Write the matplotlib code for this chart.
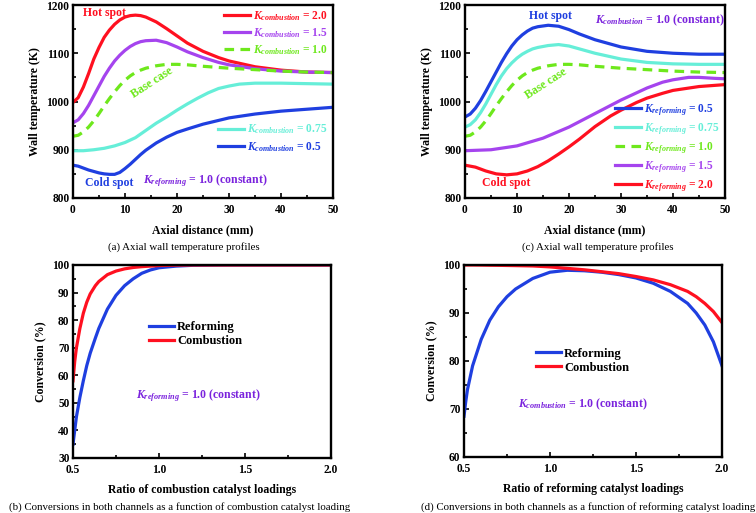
import matplotlib
matplotlib.use("Agg")
import matplotlib.pyplot as plt
from matplotlib.ticker import MultipleLocator

plt.rcParams['font.family'] = ['Liberation Serif', 'DejaVu Serif']
plt.rcParams['font.weight'] = 'bold'
plt.rcParams['mathtext.fontset'] = 'custom'
plt.rcParams['mathtext.rm'] = 'Liberation Serif:bold'
plt.rcParams['mathtext.it'] = 'Liberation Serif:italic:bold'
plt.rcParams['mathtext.bf'] = 'Liberation Serif:bold'

# ---------------- data ----------------
# Panel (a): varying combustion catalyst loading
x_a_k20 = [0, 1, 2, 3, 4, 5, 6, 7, 8, 9, 10, 11, 12, 13, 14, 16, 18, 20, 22, 25, 28, 30, 35, 40, 45, 50]
T_a_k20 = [998, 1008, 1030, 1058, 1088, 1112, 1133, 1148, 1160, 1169, 1175, 1178, 1179, 1178, 1175, 1165, 1151, 1136, 1121, 1104, 1091, 1084, 1072, 1065, 1061, 1060]
x_a_k15 = [0, 1, 2, 3, 4, 5, 6, 7, 8, 9, 10, 11, 12, 13, 14, 16, 18, 20, 22, 25, 28, 30, 35, 40, 45, 50]
T_a_k15 = [956, 962, 975, 992, 1012, 1032, 1052, 1069, 1084, 1096, 1106, 1114, 1120, 1124, 1126, 1127, 1122, 1113, 1103, 1091, 1081, 1076, 1068, 1063, 1061, 1060]
x_base = [0, 1, 2, 3, 4, 5, 6, 7, 8, 9, 10, 11, 12, 13, 14, 16, 18, 20, 22, 25, 30, 35, 40, 45, 50]
T_base = [928, 930, 937, 947, 960, 975, 991, 1006, 1020, 1033, 1044, 1053, 1060, 1065, 1069, 1074, 1077, 1077, 1076, 1073, 1069, 1066, 1063, 1061, 1060]
x_a_k075 = [0, 2, 4, 6, 8, 10, 12, 14, 16, 18, 20, 22, 24, 26, 28, 30, 32, 35, 40, 45, 50]
T_a_k075 = [898, 898, 900, 903, 908, 915, 925, 940, 955, 968, 982, 995, 1007, 1018, 1027, 1032, 1036, 1038, 1038, 1037, 1036]
x_a_k05 = [0, 1, 2, 3, 4, 5, 6, 7, 8, 9, 10, 11, 12, 13, 14, 16, 18, 20, 22, 25, 30, 35, 40, 45, 50]
T_a_k05 = [868, 866, 862, 858, 855, 852, 850, 849, 849, 853, 861, 870, 880, 890, 899, 914, 926, 936, 943, 953, 966, 974, 980, 984, 988]

# Panel (c): varying reforming catalyst loading
x_c_k05 = [0, 1, 2, 3, 4, 5, 6, 7, 8, 9, 10, 11, 12, 13, 14, 16, 18, 20, 22, 25, 30, 35, 40, 45, 50]
T_c_k05 = [968, 974, 986, 1002, 1021, 1041, 1061, 1081, 1099, 1115, 1128, 1138, 1146, 1152, 1155, 1158, 1156, 1149, 1140, 1128, 1113, 1104, 1100, 1098, 1098]
x_c_k075 = [0, 1, 2, 3, 4, 5, 6, 7, 8, 9, 10, 11, 12, 13, 14, 16, 18, 20, 22, 25, 30, 35, 40, 45, 50]
T_c_k075 = [947, 952, 962, 977, 995, 1015, 1035, 1053, 1068, 1080, 1090, 1098, 1104, 1109, 1112, 1116, 1118, 1115, 1109, 1100, 1088, 1081, 1078, 1077, 1077]
x_c_k15 = [0, 5, 10, 15, 20, 25, 30, 35, 38, 40, 43, 45, 48, 50]
T_c_k15 = [898, 900, 908, 924, 947, 975, 1003, 1028, 1040, 1045, 1050, 1050, 1048, 1047]
x_c_k20 = [0, 2, 4, 6, 8, 10, 12, 14, 16, 18, 20, 22, 25, 28, 30, 33, 35, 38, 40, 45, 50]
T_c_k20 = [868, 864, 856, 850, 848, 850, 856, 865, 877, 891, 906, 922, 948, 970, 982, 998, 1007, 1017, 1023, 1031, 1035]

# Panel (b): conversion vs combustion catalyst ratio
r_b = [0.5, 0.51, 0.52, 0.54, 0.56, 0.58, 0.6, 0.63, 0.65, 0.7, 0.75, 0.8, 0.85, 0.9, 0.95, 1.0, 1.1, 1.2, 1.4, 1.6, 1.8, 2.0]
conv_b_ref = [35, 40, 45, 52, 58, 63.5, 68, 73.5, 77, 84, 89, 92.5, 95, 97, 98.2, 99, 99.6, 99.9, 100, 100, 100, 100]
conv_b_comb = [58, 65, 70, 77, 82.5, 86.5, 89.5, 92.5, 94, 96.5, 97.8, 98.6, 99.1, 99.4, 99.6, 99.8, 99.95, 100, 100, 100, 100, 100]

# Panel (d): conversion vs reforming catalyst ratio
r_d = [0.5, 0.51, 0.52, 0.55, 0.6, 0.65, 0.7, 0.75, 0.8, 0.9, 1.0, 1.1, 1.2, 1.3, 1.4, 1.5, 1.6, 1.7, 1.8, 1.85, 1.9, 1.95, 2.0]
conv_d_ref = [68.5, 71.5, 74, 79, 84.5, 88.5, 91.3, 93.4, 95, 97.2, 98.5, 98.9, 98.8, 98.5, 98, 97.3, 96.2, 94.5, 92, 90, 87.5, 84, 79]
conv_d_comb = [100, 100, 100, 100, 99.98, 99.95, 99.93, 99.9, 99.87, 99.8, 99.6, 99.3, 99, 98.6, 98.2, 97.6, 96.9, 95.9, 94.5, 93.4, 92, 90.3, 88]

# ---------------- styles ----------------
RED = '#ff1020'
PURPLE = '#a544ee'
GREEN = '#6ee81c'
CYAN = '#66eed8'
BLUE = '#1f3fe0'
TXT_PURPLE = '#7a22dd'
LW = 2.3

fig = plt.figure(figsize=(7.56, 5.13), dpi=100)
W, H = 756.0, 513.0


def make_ax(l, t, r, b):
    return fig.add_axes([l / W, 1 - b / H, (r - l) / W, (b - t) / H])


def style(ax, xlim, ylim, xmaj, xmin, ymaj, ymin, xlabel, ylabel, xfmt=None):
    ax.set_xlim(*xlim)
    ax.set_ylim(*ylim)
    ax.xaxis.set_major_locator(MultipleLocator(xmaj))
    ax.xaxis.set_minor_locator(MultipleLocator(xmin))
    ax.yaxis.set_major_locator(MultipleLocator(ymaj))
    ax.yaxis.set_minor_locator(MultipleLocator(ymin))
    ax.tick_params(which='both', direction='in', top=False, right=False,
                   labelsize=8.3, width=1.2)
    ax.tick_params(axis='x', which='both', pad=4)
    ax.tick_params(axis='y', which='both', pad=2.5)
    ax.tick_params(which='major', length=3.5)
    ax.tick_params(which='minor', length=2)
    for s in ax.spines.values():
        s.set_linewidth(1.7)
    if xfmt:
        ax.xaxis.set_major_formatter(xfmt)
    ax.set_xlabel(xlabel, fontsize=8.5, fontweight='bold', labelpad=6)
    ax.set_ylabel(ylabel, fontsize=8.5, fontweight='bold', labelpad=4)


leg_kw = dict(frameon=False, fontsize=8.3, handlelength=2.3, handletextpad=0.2,
              labelspacing=0.3, borderaxespad=0.1)
leg2_kw = dict(frameon=False, fontsize=9, handlelength=2.0, handletextpad=0.25,
               labelspacing=0.15, borderaxespad=0)

# ---------- panel (a) ----------
axa = make_ax(73, 5, 333, 198)
la1, = axa.plot(x_a_k20, T_a_k20, color=RED, lw=LW, label=r'$K_{combustion}$ = 2.0')
la2, = axa.plot(x_a_k15, T_a_k15, color=PURPLE, lw=LW, label=r'$K_{combustion}$ = 1.5')
la3, = axa.plot(x_base, T_base, color=GREEN, lw=LW, ls=(0, (3, 2)), label=r'$K_{combustion}$ = 1.0')
la4, = axa.plot(x_a_k075, T_a_k075, color=CYAN, lw=LW, label=r'$K_{combustion}$ = 0.75')
la5, = axa.plot(x_a_k05, T_a_k05, color=BLUE, lw=LW, label=r'$K_{combustion}$ = 0.5')
style(axa, (0, 50), (800, 1200), 10, 5, 100, 50, 'Axial distance (mm)', 'Wall temperature (K)')
leg1 = axa.legend(handles=[la1, la2, la3], loc='upper right', labelcolor='linecolor',
                  bbox_to_anchor=(1.0, 1.01), **leg_kw)
axa.add_artist(leg1)
axa.legend(handles=[la4, la5], loc='lower right', labelcolor='linecolor',
           bbox_to_anchor=(1.0, 0.2), **leg_kw)
axa.text(6, 1183, 'Hot spot', color=RED, fontsize=8.5, fontweight='bold', ha='center', va='center')
axa.text(15.3, 1040, 'Base case', color=GREEN, fontsize=8.5, fontweight='bold', ha='center', va='center', rotation=33)
axa.text(7, 831, 'Cold spot', color=BLUE, fontsize=8.5, fontweight='bold', ha='center', va='center')
axa.text(25.5, 836, r'$K_{reforming}$ = 1.0 (constant)', color=TXT_PURPLE, fontsize=8.5, fontweight='bold', ha='center', va='center')

# ---------- panel (c) ----------
axc = make_ax(465, 5, 725, 198)
lc1, = axc.plot(x_c_k05, T_c_k05, color=BLUE, lw=LW, label=r'$K_{reforming}$ = 0.5')
lc2, = axc.plot(x_c_k075, T_c_k075, color=CYAN, lw=LW, label=r'$K_{reforming}$ = 0.75')
lc3, = axc.plot(x_base, T_base, color=GREEN, lw=LW, ls=(0, (3, 2)), label=r'$K_{reforming}$ = 1.0')
lc4, = axc.plot(x_c_k15, T_c_k15, color=PURPLE, lw=LW, label=r'$K_{reforming}$ = 1.5')
lc5, = axc.plot(x_c_k20, T_c_k20, color=RED, lw=LW, label=r'$K_{reforming}$ = 2.0')
style(axc, (0, 50), (800, 1200), 10, 5, 100, 50, 'Axial distance (mm)', 'Wall temperature (K)')
axc.legend(handles=[lc1, lc2, lc3, lc4, lc5], loc='lower right', labelcolor='linecolor',
           bbox_to_anchor=(1.0, -0.01), **leg_kw)
axc.text(16.5, 1177, 'Hot spot', color=BLUE, fontsize=8.5, fontweight='bold', ha='center', va='center')
axc.text(37.5, 1168, r'$K_{combustion}$ = 1.0 (constant)', color=TXT_PURPLE, fontsize=8.5, fontweight='bold', ha='center', va='center')
axc.text(15.5, 1036, 'Base case', color=GREEN, fontsize=8.5, fontweight='bold', ha='center', va='center', rotation=33)
axc.text(7.9, 831, 'Cold spot', color=RED, fontsize=8.5, fontweight='bold', ha='center', va='center')

# ---------- panel (b) ----------
fmt1 = matplotlib.ticker.FormatStrFormatter('%.1f')
axb = make_ax(73, 265, 331, 458)
lb1, = axb.plot(r_b, conv_b_ref, color=BLUE, lw=LW, label='Reforming')
lb2, = axb.plot(r_b, conv_b_comb, color=RED, lw=LW, label='Combustion')
style(axb, (0.5, 2.0), (30, 100), 0.5, 0.25, 10, 5, 'Ratio of combustion catalyst loadings', 'Conversion (%)', fmt1)
axb.legend(handles=[lb1, lb2], loc='upper left', bbox_to_anchor=(0.275, 0.735), **leg2_kw)
axb.text(1.23, 52.5, r'$K_{reforming}$ = 1.0 (constant)', color=TXT_PURPLE, fontsize=8.5, fontweight='bold', ha='center', va='center')

# ---------- panel (d) ----------
axd = make_ax(464, 265, 722, 457)
ld1, = axd.plot(r_d, conv_d_ref, color=BLUE, lw=LW, label='Reforming')
ld2, = axd.plot(r_d, conv_d_comb, color=RED, lw=LW, label='Combustion')
style(axd, (0.5, 2.0), (60, 100), 0.5, 0.25, 10, 5, 'Ratio of reforming catalyst loadings', 'Conversion (%)', fmt1)
axd.legend(handles=[ld1, ld2], loc='upper left', bbox_to_anchor=(0.26, 0.595), **leg2_kw)
axd.text(1.19, 71, r'$K_{combustion}$ = 1.0 (constant)', color=TXT_PURPLE, fontsize=8.5, fontweight='bold', ha='center', va='center')

# ---------- captions ----------
cap_kw = dict(fontsize=7.8, fontweight='normal', ha='center', va='center')
fig.text(184 / W, 1 - 247 / H, '(a) Axial wall temperature profiles', **cap_kw)
fig.text(598 / W, 1 - 247 / H, '(c) Axial wall temperature profiles', **cap_kw)
fig.text(180 / W, 1 - 507 / H, '(b) Conversions in both channels as a function of combustion catalyst loading', **cap_kw)
fig.text(588 / W, 1 - 507 / H, '(d) Conversions in both channels as a function of reforming catalyst loading', **cap_kw)

fig.savefig('out.png', dpi=100)
